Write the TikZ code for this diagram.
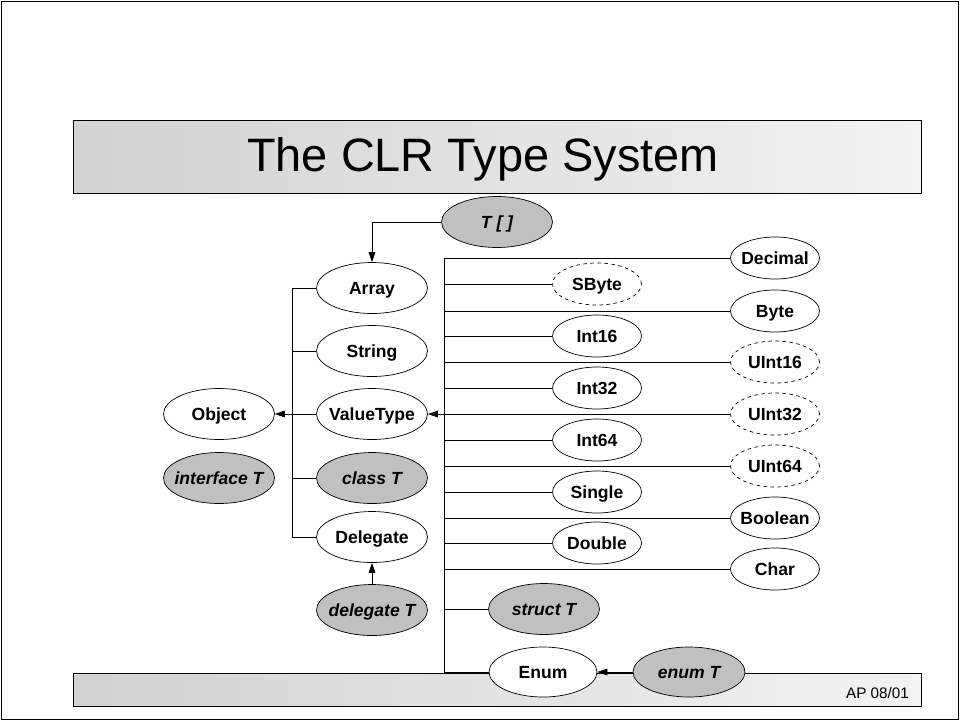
\documentclass[tikz,border=0pt]{standalone}
\usepackage{fontspec}
\setmainfont{Liberation Sans}
\usepackage{tikz}
\usetikzlibrary{shapes.geometric, arrows.meta, positioning}
\definecolor{userfill}{RGB}{192,192,192}
\definecolor{bardark}{RGB}{210,210,210}
\definecolor{barlight}{RGB}{243,243,243}
\tikzset{
  typenode/.style={ellipse, draw=black, fill=white,
    minimum width=3.33cm, minimum height=1.53cm, inner sep=0pt,
    text height=10.5pt, text depth=0pt,
    font=\fontsize{15}{17}\selectfont\bfseries, line width=0.6pt,
    execute at begin node={\hbox to 0pt\bgroup\hss},
    execute at end node={\hss\egroup}},
  usernode/.style={typenode, fill=userfill,
    font=\fontsize{15}{17}\selectfont\bfseries\itshape},
  primnode/.style={typenode, minimum width=2.67cm, minimum height=1.26cm},
  unsignednode/.style={primnode, dashed},
  titlebar/.style={draw=black, line width=0.8pt, left color=bardark, right color=barlight},
  arrow/.style={-{Triangle[length=3mm, width=2mm]}, line width=0.6pt, color=black},
  line/.style={line width=0.6pt, color=black}
}
\begin{document}
\begin{tikzpicture}[x=0.03cm, y=-0.03cm]
  \useasboundingbox (0,0) rectangle (960,721);
  \draw[line width=1.2pt] (1.5,1.5) rectangle (958.5,719.5);

  % title and footer bars
  \draw[titlebar] (73,120) rectangle (921,193);
  \node (title) at (483,159) {\fontsize{40}{44}\selectfont The CLR Type System};
  \draw[titlebar] (73,673) rectangle (921,706);
  \node[anchor=east, font=\fontsize{13}{15}\selectfont] (footer) at (913,693) {AP 08/01};

  % reference types
  \node[typenode] (object) at (219,414) {Object};
  \node[usernode] (iface) at (219,478) {interface T};
  \node[typenode] (array) at (372,288) {Array};
  \node[typenode] (string) at (372,351) {String};
  \node[typenode] (valtype) at (372,414) {ValueType};
  \node[usernode] (classT) at (372,478) {class T};
  \node[typenode] (delegate) at (372,537) {Delegate};
  \node[usernode] (delegT) at (372,610) {delegate T};
  \node[usernode] (tarr) at (497,222) {T [ ]};

  % value types
  \node[primnode] (decimal) at (775,258) {Decimal};
  \node[unsignednode] (sbyte) at (597,284) {SByte};
  \node[primnode] (byte) at (775,311) {Byte};
  \node[primnode] (int16) at (597,336) {Int16};
  \node[unsignednode] (uint16) at (775,362) {UInt16};
  \node[primnode] (int32) at (597,388) {Int32};
  \node[unsignednode] (uint32) at (775,414) {UInt32};
  \node[primnode] (int64) at (597,440) {Int64};
  \node[unsignednode] (uint64) at (775,466) {UInt64};
  \node[primnode] (single) at (597,492) {Single};
  \node[primnode] (boolean) at (775,518) {Boolean};
  \node[primnode] (double) at (597,543) {Double};
  \node[primnode] (char) at (775,569) {Char};
  \node[usernode] (structT) at (544,609) {struct T};
  \node[typenode, minimum width=3.24cm, minimum height=1.5cm] (enum) at (543,672) {Enum};
  \node[usernode, minimum width=3.36cm, minimum height=1.5cm] (enumT) at (689,672) {enum T};

  \coordinate (lbus) at (292,414);
  \coordinate (rbus) at (444,414);

  % Object branch
  \draw[line] (array.west) -| (lbus |- delegate.west) -- (delegate.west);
  \foreach \n in {string, classT}
    \draw[line] (lbus |- \n.west) -- (\n.west);
  \draw[arrow] (valtype.west) -- (object.east);
  \draw[arrow] (tarr.west) -| (array.north);
  \draw[arrow] (delegT.north) -- (delegate.south);

  % ValueType branch
  \draw[line] (decimal.west) -| (rbus |- enum.west) -- (enum.west);
  \foreach \n in {sbyte, byte, int16, uint16, int32, int64, uint64, single, boolean, double, char, structT}
    \draw[line] (rbus |- \n.west) -- (\n.west);
  \draw[arrow] (uint32.west) -- (valtype.east);
  \draw[arrow] (enumT.west) -- (enum.east);
\end{tikzpicture}
\end{document}
